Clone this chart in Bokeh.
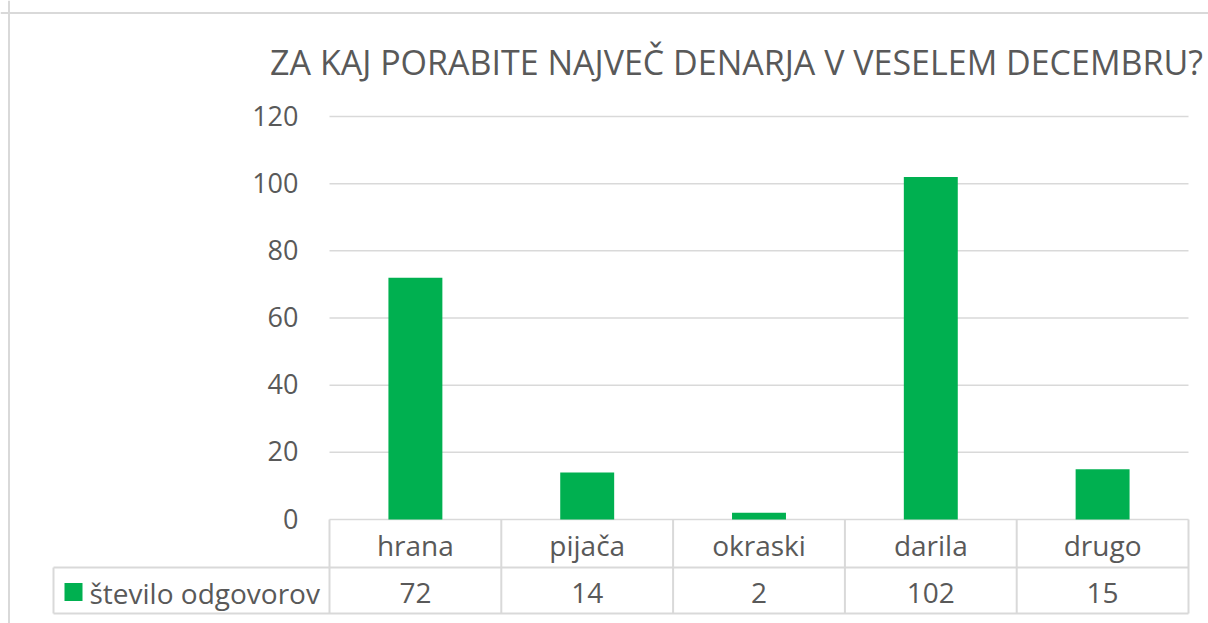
from bokeh.plotting import figure
from bokeh.models import Range1d, Span
from bokeh.core.properties import value
from bokeh.embed import file_html
from bokeh.resources import INLINE

# ---- data ----
title_text = "ZA KAJ PORABITE NAJVEČ DENARJA V VESELEM DECEMBRU?"
categories = ["hrana", "pijača", "okraski", "darila", "drugo"]
series_name = "število odgovorov"
counts = [72, 14, 2, 102, 15]
y_ticks = [0, 20, 40, 60, 80, 100, 120]

# ---- layout constants (pixels of the canvas) ----
W, H = 1208, 623
PLOT_LEFT = 329          # left edge of plot area (canvas px)
CAT_W = 171.8            # px per category
ZERO_Y = 519             # canvas px (from top) of value 0
PX_PER_UNIT = 403 / 120  # px per value unit

def xd(px):  # canvas px -> data x
    return (px - PLOT_LEFT) / CAT_W

def yd(py):  # canvas px from top -> data y
    return (ZERO_Y - py) / PX_PER_UNIT

GREEN = "#00B050"
GRID = "#D9D9D9"
TXT = "#595959"
FONT = value("Open Sans")

p = figure(width=W, height=H, output_backend="svg", toolbar_location=None,
           x_range=Range1d(xd(0), xd(W)), y_range=Range1d(yd(H), yd(0)),
           min_border=0, outline_line_color=None)
p.axis.visible = False
p.grid.visible = False
p.background_fill_color = "white"
p.border_fill_color = "white"

n = len(categories)
xs = [i + 0.5 for i in range(n)]

# gridlines
p.segment(x0=[0] * len(y_ticks), x1=[n] * len(y_ticks), y0=y_ticks, y1=y_ticks,
          line_color=GRID, line_width=1.5)

# bars
p.vbar(x=xs, top=counts, bottom=0, width=0.314, fill_color=GREEN, line_color=None)

# y tick labels
p.text(x=[xd(298)] * len(y_ticks), y=y_ticks, text=[str(t) for t in y_ticks],
       text_align="right", text_baseline="middle", text_font=FONT,
       text_font_size="27px", text_color=TXT, y_offset=-1)

# data table lines
row1 = yd(567)   # bottom of header row
row2 = yd(613)   # bottom of value row
legend_left = xd(53)
p.segment(x0=[legend_left, legend_left], x1=[n, n], y0=[row1, row2], y1=[row1, row2],
          line_color=GRID, line_width=2)
p.segment(x0=list(range(n + 1)), x1=list(range(n + 1)), y0=[0] * (n + 1),
          y1=[row2] * (n + 1), line_color=GRID, line_width=2)
p.segment(x0=[legend_left], x1=[legend_left], y0=[row1], y1=[row2],
          line_color=GRID, line_width=2)

# header labels
p.text(x=xs, y=[yd(544)] * n, text=categories, text_align="center",
       text_baseline="alphabetic", text_font=FONT, text_font_size="28px",
       text_color=TXT)
# values row
p.text(x=xs, y=[yd(592)] * n, text=[str(v) for v in counts], text_align="center",
       text_baseline="alphabetic", text_font=FONT, text_font_size="28px",
       text_color=TXT)
# legend key + name
p.scatter(x=[xd(73)], y=[yd(591.5)], marker="square", size=18,
          fill_color=GREEN, line_color=None)
p.text(x=[xd(89)], y=[yd(592)], text=[series_name], text_align="left",
       text_baseline="alphabetic", text_font=FONT, text_font_size="28px",
       text_color=TXT)

# title
p.text(x=[xd(736)], y=[yd(61)], text=[title_text], text_align="center",
       text_baseline="alphabetic", text_font=FONT, text_font_size="34px",
       text_color=TXT)

# chart area border (left and top)
p.add_layout(Span(location=xd(8.5), dimension="height", line_color=GRID, line_width=2))
p.add_layout(Span(location=yd(12.5), dimension="width", line_color=GRID, line_width=2))

open("out.html", "w").write(file_html(p, INLINE))
